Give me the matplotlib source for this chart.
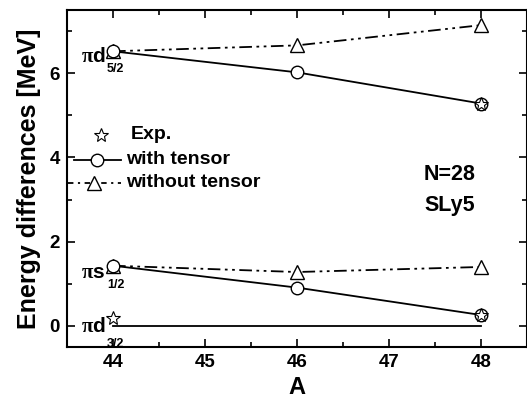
import matplotlib
matplotlib.use("Agg")
import matplotlib.pyplot as plt

plt.rcParams['font.family'] = ['Liberation Sans', 'DejaVu Sans']
plt.rcParams['font.weight'] = 'bold'
plt.rcParams['mathtext.fontset'] = 'custom'
plt.rcParams['mathtext.rm'] = 'Liberation Sans:bold'
plt.rcParams['mathtext.it'] = 'Liberation Serif'
plt.rcParams['mathtext.bf'] = 'Liberation Sans:bold'

mass = [44, 46, 48]
d52_tensor = [6.52, 6.02, 5.28]
d52_notensor = [6.52, 6.66, 7.14]
s12_tensor = [1.43, 0.91, 0.26]
s12_notensor = [1.43, 1.28, 1.40]
d32_level = [0.0, 0.0, 0.0]
exp_mass = [44, 48, 48]
exp_energy = [0.18, 5.28, 0.26]

fig = plt.figure(figsize=(5.27, 4.01), dpi=100)
ax = fig.add_axes([67 / 527, 1 - 347 / 401, 460 / 527, 337 / 401])

lw = 1.3
dd = (7, 2.5, 1.5, 2.5, 1.5, 2.5)
circ = dict(marker='o', ms=9, mfc='white', mec='k', mew=1)
tri = dict(marker='^', ms=9.5, mfc='white', mec='k', mew=1)
star = dict(ls='none', marker='*', ms=10, mfc='none', mec='k', mew=0.8)

ax.plot(mass, d32_level, '-', color='k', lw=lw)
ax.plot(mass, d52_notensor, color='k', lw=lw, dashes=dd, **tri)
ax.plot(mass, s12_notensor, color='k', lw=lw, dashes=dd, **tri)
ax.plot(mass, d52_tensor, '-', color='k', lw=lw, **circ)
ax.plot(mass, s12_tensor, '-', color='k', lw=lw, **circ)
ax.plot(exp_mass, exp_energy, **star)

# legend drawn by hand
ax.plot([43.87], [4.54], **star)
ax.text(44.195, 4.54, 'Exp.', fontsize=14, fontweight='bold', va='center')
ax.plot([43.578, 44.086], [3.95, 3.95], '-', color='k', lw=lw)
ax.plot([43.827], [3.95], **circ)
ax.text(44.14, 3.95, 'with tensor', fontsize=14, fontweight='bold', va='center')
ax.plot([43.514, 44.086], [3.40, 3.40], color='k', lw=lw, dashes=(3, 2.5, 1.2, 2.5))
ax.plot([43.795], [3.40], **tri)
ax.text(44.14, 3.40, 'without tensor', fontsize=14, fontweight='bold', va='center')

# level labels
levels = [(6.52, 'd', '5/2', -11, -21), (1.43, 's', '1/2', -12, -22), (0.0, 'd', '3/2', -6, -21)]
for yv, orb, sub, dy, dys in levels:
    ax.annotate(r'$\pi$' + orb, xy=(44, yv), xytext=(-32, dy), textcoords='offset pixels',
                fontsize=15, fontweight='bold', ha='left', va='baseline')
    ax.annotate(sub, xy=(44, yv), xytext=(-6, dys), textcoords='offset pixels',
                fontsize=9, fontweight='bold', ha='left', va='baseline')

ax.text(47.66, 3.59, 'N=28', fontsize=15.5, fontweight='bold', ha='center', va='center')
ax.text(47.66, 2.87, 'SLy5', fontsize=15.5, fontweight='bold', ha='center', va='center')

ax.set_xlim(43.5, 48.5)
ax.set_ylim(-0.5, 7.5)
ax.set_xticks([44, 45, 46, 47, 48])
ax.set_xticks([44.5, 45.5, 46.5, 47.5], minor=True)
ax.set_yticks([0, 2, 4, 6])
ax.set_yticks([1, 3, 5, 7], minor=True)
ax.tick_params(which='both', direction='in', top=True, right=True, width=1.2)
ax.tick_params(which='major', length=6, labelsize=13.5, pad=5)
ax.tick_params(which='minor', length=3.5)
for lab in ax.get_xticklabels() + ax.get_yticklabels():
    lab.set_fontweight('bold')
for s in ax.spines.values():
    s.set_linewidth(1.5)

ax.set_xlabel('A', fontsize=17, fontweight='bold', labelpad=4)
ax.set_ylabel('Energy differences [MeV]', fontsize=18, fontweight='bold', labelpad=6)

fig.savefig('out.png', dpi=100)
